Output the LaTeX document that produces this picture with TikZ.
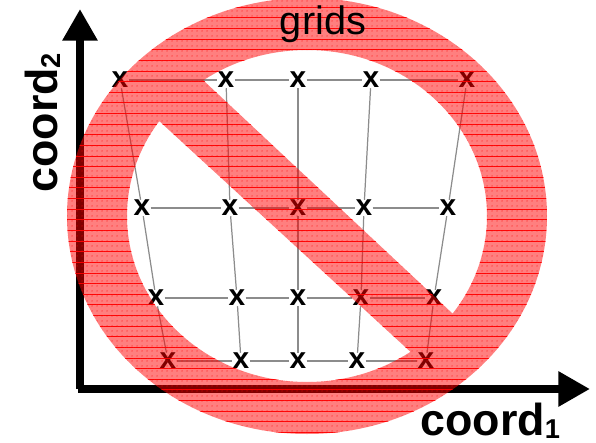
\documentclass[tikz,border=0pt]{standalone}
\usepackage{fontspec}
\setmainfont{Liberation Sans}
\usetikzlibrary{arrows.meta,patterns}

\pgfdeclarepatternformonly{ringlines}{\pgfqpoint{-1pt}{-1pt}}{\pgfqpoint{1pt}{7pt}}{\pgfqpoint{1pt}{6.05pt}}{%
  \pgfsetlinewidth{0.45pt}
  \pgfpathmoveto{\pgfqpoint{-1pt}{0pt}}
  \pgfpathlineto{\pgfqpoint{2pt}{0pt}}
  \pgfusepath{stroke}}
\pgfdeclarepatternformonly{ringdots}{\pgfqpoint{0pt}{0pt}}{\pgfqpoint{2.85pt}{2.85pt}}{\pgfqpoint{2.85pt}{2.85pt}}{%
  \pgfpathcircle{\pgfqpoint{1.4pt}{1.4pt}}{0.45pt}
  \pgfusepath{fill}}

\newcommand{\coordsub}[1]{coord\raisebox{-2pt}{\fontsize{15.5}{15.5}\selectfont #1}}
% ring and bar as one path: the inner ellipse runs the other way round
\newcommand{\ringpath}{(307,216) ellipse (240 and 218) (307,216) ellipse (-180 and 166)
  (188,66) -- (468,328) -- (427,367) -- (145,108) -- cycle}

\tikzset{
  gridmark/.style={inner sep=0pt,font=\fontsize{17}{17}\selectfont\bfseries},
  gridline/.style={draw=black!45,line width=0.7pt},
  axisline/.style={line width=4.4pt,-{Triangle[length=18pt,width=19pt]}},
  axislabel/.style={font=\fontsize{25.5}{25.5}\selectfont\bfseries,inner sep=0pt},
}

\begin{document}
\begin{tikzpicture}[x=0.02cm,y=-0.02cm]
  \useasboundingbox (0,0) rectangle (596,443);
  % the marks, row by row
  \foreach \x [count=\c] in {120,226,298,371,467}
    \node[gridmark] (p1\c) at (\x,80) {x};
  \foreach \x [count=\c] in {142,230,298,364,448}
    \node[gridmark] (p2\c) at (\x,208) {x};
  \foreach \x [count=\c] in {156,237,298,361,434}
    \node[gridmark] (p3\c) at (\x,298) {x};
  \foreach \x [count=\c] in {168,241,298,357,426}
    \node[gridmark] (p4\c) at (\x,361) {x};
  % lines of the grid
  \foreach \r in {1,2,3,4}
    \draw[gridline] (p\r1) -- (p\r2) -- (p\r3) -- (p\r4) -- (p\r5);
  \foreach \c in {1,2,3,4,5}
    \draw[gridline] (p1\c) -- (p2\c) -- (p3\c) -- (p4\c);
  % axes
  \coordinate (origin) at (80,389);
  \coordinate (xend) at (590,389);
  \coordinate (yend) at (80,9);
  \draw[axisline] (78,389) -- (xend);
  \draw[axisline] (origin) -- (yend);
  \node[axislabel,anchor=base west] (xlabel) at (420,435) {\coordsub{1}};
  \node[axislabel,rotate=90,anchor=base west] (ylabel) at (57,193) {\coordsub{2}};
  % the ring and its bar
  \fill[red,opacity=0.5] \ringpath;
  \fill[pattern=ringdots,pattern color=red,opacity=0.7] \ringpath;
  \fill[pattern=ringlines,pattern color=red,opacity=0.8] \ringpath;
  \node[font=\fontsize{22.6}{22.6}\selectfont,inner sep=0pt] (title) at (323,24) {grids};
\end{tikzpicture}
\end{document}
